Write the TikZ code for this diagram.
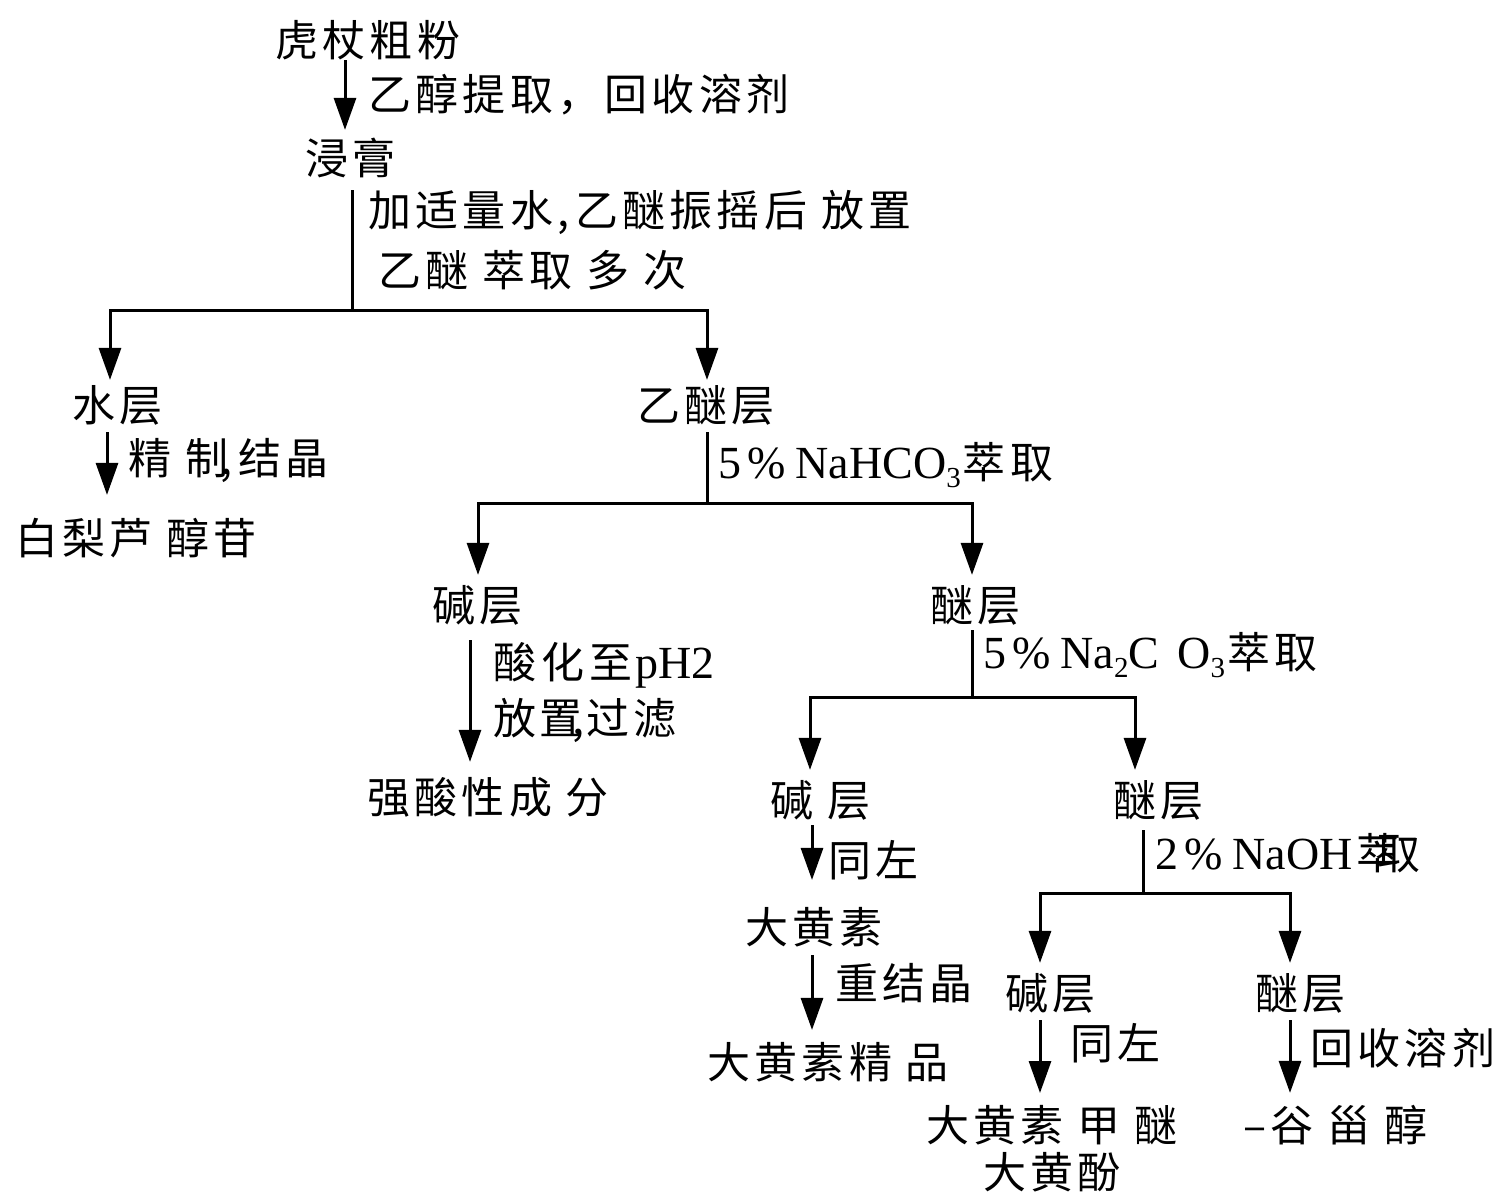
\documentclass[tikz,border=0pt]{standalone}
\usepackage{fontspec}
\setmainfont{Noto Sans CJK SC}[LetterSpace=10]
\newfontfamily\latf{Liberation Serif}
\newcommand{\lat}{\latf\fontsize{46}{47}\selectfont}
\usetikzlibrary{arrows.meta}
\newcommand{\subsc}[1]{\raisebox{-9pt}{\fontsize{29}{29}\selectfont #1}}
\begin{document}
\begin{tikzpicture}[x=1pt,y=-1pt,
  txt/.style={inner sep=0pt, anchor=west, font=\fontsize{43}{47}\selectfont},
  ln/.style={line width=3pt, line join=miter},
  arr/.style={ln, -{Triangle[length=32pt,width=22pt]}}]
\useasboundingbox (0,0) rectangle (1497,1194);
% columns / split points
\coordinate (cA) at (345,0);
\coordinate (cB) at (107,0);
\coordinate (cL1) at (110,0);
\coordinate (cR1) at (707,0);
\coordinate (cL2) at (478,0);
\coordinate (cR2) at (972,0);
\coordinate (cE) at (470,0);
\coordinate (cL3) at (810,0);
\coordinate (cR3) at (1135,0);
\coordinate (cG) at (812,0);
\coordinate (cL4) at (1040,0);
\coordinate (cR4) at (1290,0);
\coordinate (s1) at (352,310);
\coordinate (s2) at (707,503);
\coordinate (s3) at (972,697);
\coordinate (s4) at (1143,893);
% nodes
\node[txt] (n1) at (275,40) {虎杖粗粉};
\node[txt] (l1) at (368,95) {乙醇提取，回收溶剂};
\node[txt] (n2) at (305,158) {浸膏};
\node[txt] (l2) at (368,212) {加适量水\kern4pt,\kern6pt 乙醚振摇后 放置};
\node[txt] (l3) at (378,270) {乙醚 萃取 多 次};
\node[txt] (n3) at (72,405) {水层};
\node[txt] (n4) at (637,405) {乙醚层};
\node[txt] (l4) at (128,460) {精 制\kern-8pt,\kern6pt 结晶};
\node[txt] (n5) at (15,538) {白梨芦 醇苷};
\node[txt] (l5) at (718,465) {{\lat 5\kern6pt\%\kern10pt NaHCO\subsc{3}}\kern2pt 萃取};
\node[txt] (n6) at (432,605) {碱层};
\node[txt] (n7) at (930,605) {醚层};
\node[txt] (l6) at (493,665) {酸\kern5pt 化\kern5pt 至\kern3pt{\lat pH2}};
\node[txt] (l7) at (493,720) {放\kern3pt 置\kern-10pt,\kern2pt 过滤};
\node[txt] (n8) at (367,797) {强酸性成 分};
\node[txt] (l8) at (983,655) {{\lat 5\kern6pt\%\kern10pt Na\subsc{2}C\kern18pt O\subsc{3}}\kern2pt 萃取};
\node[txt] (n9) at (770,800) {碱 层};
\node[txt] (n10) at (1113,800) {醚层};
\node[txt] (l9) at (828,860) {同左};
\node[txt] (n11) at (745,927) {大黄素};
\node[txt] (l10) at (835,983) {重结晶};
\node[txt] (n14) at (707,1062) {大黄素精 品};
\node[txt] (l11) at (1155,853) {{\lat 2\kern6pt\%\kern10pt NaOH}\kern4pt 萃\kern-22pt 取};
\node[txt] (n12) at (1005,993) {碱层};
\node[txt] (n13) at (1255,993) {醚层};
\node[txt] (l12) at (1070,1043) {同左};
\node[txt, anchor=north, align=center] (n15) at (1052,1105) {大黄素 甲 醚\\大黄酚};
\node[txt] (l13) at (1310,1048) {回收溶剂};
\node[txt] (n16) at (1243,1125) {–谷 甾 醇};
% connectors
\draw[arr, shorten >=8pt] (n1.south -| cA) -- (n2.north -| cA);
\draw[ln, shorten <=12pt] (n2.south -| s1) -- (s1);
\draw[arr, shorten >=5pt] (s1) -| (n3.north -| cL1);
\draw[arr, shorten >=5pt] (s1) -| (n4.north -| cR1);
\draw[arr, shorten <=7pt, shorten >=23pt] (n3.south -| cB) -- (n5.north -| cB);
\draw[ln, shorten <=7pt] (n4.south -| s2) -- (s2);
\draw[arr, shorten >=10pt] (s2) -| (n6.north -| cL2);
\draw[arr, shorten >=10pt] (s2) -| (n7.north -| cR2);
\draw[arr, shorten <=15pt, shorten >=15pt] (n6.south -| cE) -- (n8.north -| cE);
\draw[ln, shorten <=5pt] (n7.south -| s3) -- (s3);
\draw[arr, shorten >=10pt] (s3) -| (n9.north -| cL3);
\draw[arr, shorten >=10pt] (s3) -| (n10.north -| cR3);
\draw[arr, shorten <=5pt, shorten >=27pt] (n9.south -| cG) -- (n11.north -| cG);
\draw[arr, shorten <=8pt, shorten >=12pt] (n11.south -| cG) -- (n14.north -| cG);
\draw[ln, shorten <=10pt] (n10.south -| s4) -- (s4);
\draw[arr, shorten >=10pt] (s4) -| (n12.north -| cL4);
\draw[arr, shorten >=10pt] (s4) -| (n13.north -| cR4);
\draw[arr, shorten <=7pt, shorten >=12pt] (n12.south -| cL4) -- (n15.north -| cL4);
\draw[arr, shorten <=7pt, shorten >=12pt] (n13.south -| cR4) -- (n16.north -| cR4);
\end{tikzpicture}
\end{document}
